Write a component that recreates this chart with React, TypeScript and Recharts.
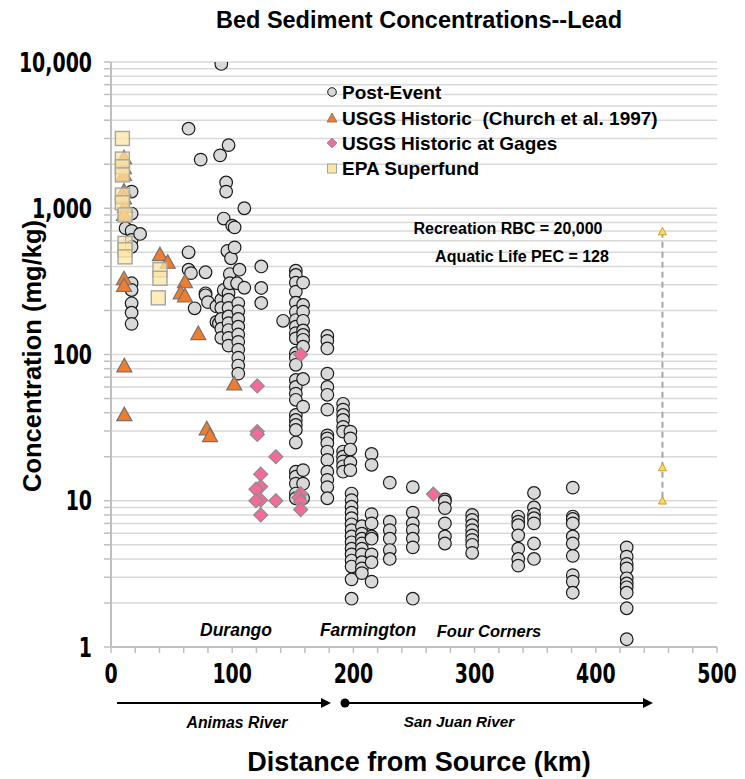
import React from "react";
import { ScatterChart, Scatter, XAxis, YAxis, CartesianGrid } from "recharts";

const W = 745;
const H = 779;

const xTicks = [0, 20, 40, 60, 80, 100, 120, 140, 160, 180, 200, 220, 240, 260, 280, 300, 320, 340, 360, 380, 400, 420, 440, 460, 480, 500];
const yTicks = [
  1, 2, 3, 4, 5, 6, 7, 8, 9,
  10, 20, 30, 40, 50, 60, 70, 80, 90,
  100, 200, 300, 400, 500, 600, 700, 800, 900,
  1000, 2000, 3000, 4000, 5000, 6000, 7000, 8000, 9000,
  10000,
];
const yMajor = [1, 10, 100, 1000, 10000];

// post-event samples, grouped by site (distance km -> concentrations mg/kg)
const postEventSites: { km: number; conc: number[] }[] = [
  { km: 12, conc: [730] },
  { km: 17, conc: [1300, 920, 700, 607, 545, 307, 276, 224, 193, 162] },
  { km: 24, conc: [667] },
  { km: 64, conc: [3500, 500, 380] },
  { km: 66, conc: [360] },
  { km: 69, conc: [207] },
  { km: 74, conc: [2150] },
  { km: 78, conc: [365, 262, 254] },
  { km: 80, conc: [228] },
  { km: 87, conc: [213, 167] },
  { km: 89, conc: [163] },
  { km: 90, conc: [2300] },
  { km: 91, conc: [9700, 237, 208, 175, 150, 130] },
  { km: 93, conc: [850, 276] },
  { km: 95, conc: [1500, 1300] },
  { km: 96, conc: [510] },
  { km: 97, conc: [2700, 262, 237, 208, 182, 164, 147, 130, 115] },
  { km: 98, conc: [355, 307] },
  { km: 99, conc: [455] },
  { km: 100, conc: [760] },
  { km: 102, conc: [740, 540] },
  { km: 104, conc: [307] },
  { km: 105, conc: [224, 198, 175, 155, 137, 122, 108, 95, 84, 74] },
  { km: 106, conc: [380] },
  { km: 110, conc: [1000, 286] },
  { km: 124, conc: [400, 285, 225] },
  { km: 142, conc: [170] },
  { km: 152.5, conc: [374, 350, 310, 269, 226, 196, 172, 155, 140, 129, 102, 95, 85, 67, 60, 54, 49, 38.6, 35.7, 33, 30.5, 25, 15.8, 14.6, 13.1, 11.2, 10.4] },
  { km: 158.5, conc: [310, 218, 196, 170, 146, 136, 126, 113, 68, 44, 16.2, 13.1, 10.4] },
  { km: 178.5, conc: [134, 124, 110, 74, 60, 53, 42, 28, 26.7, 24.7, 21.7, 19, 15.8, 13.9, 12.4, 10.4] },
  { km: 191.5, conc: [46, 42, 38.6, 35.7, 32, 29.7, 21.7, 20, 18.6, 17.2, 15.8] },
  { km: 197.5, conc: [29.7, 26.7, 22.4, 18.3, 16.2] },
  { km: 198.5, conc: [11.2, 10.1, 9.1, 8.3, 7.6, 6.9, 6.3, 5.7, 5.2, 4.7, 4.3, 3.9, 3.55, 2.9, 2.14] },
  { km: 207, conc: [6.7, 5.95, 5.5, 5.1, 4.7, 4.3, 3.8, 3.45, 3.2] },
  { km: 215, conc: [20.9, 17.6, 8.1, 7.0, 5.7, 5.5, 4.3, 3.8, 2.8] },
  { km: 230, conc: [13.3, 7.2, 6.3, 5.5, 4.6, 4.0] },
  { km: 249, conc: [12.4, 8.3, 7.0, 6.3, 5.5, 4.8, 2.14] },
  { km: 275.5, conc: [10.2, 9.9, 8.9, 7.0, 5.7, 5.1] },
  { km: 298, conc: [8.0, 7.4, 6.8, 6.3, 5.8, 5.4, 5.0, 4.4] },
  { km: 336, conc: [7.8, 7.2, 6.8, 5.8, 4.7, 4.0, 3.6] },
  { km: 349, conc: [11.3, 9.0, 8.1, 7.6, 7.0, 5.1, 4.0] },
  { km: 381, conc: [12.3, 7.8, 7.5, 7.0, 5.7, 5.1, 4.2, 3.1, 2.8, 2.35] },
  { km: 425.5, conc: [4.8, 4.15, 3.7, 3.45, 2.95, 2.72, 2.56, 2.35, 1.84, 1.13] },
];

// USGS historic (Church et al. 1997)
const usgsHistoric: [number, number][] = [
  [10.7, 2200], [10.7, 1880], [10.7, 1690], [10.7, 1300], [10.7, 1170], [11.5, 1020], [10.7, 900],
  [10.7, 327], [10.7, 294], [11, 83], [11, 38.5],
  [40.4, 478], [46.8, 424], [61, 312], [57.5, 262], [61, 250], [72, 138],
  [79, 30.8], [81.7, 27.7], [101.7, 62.5],
];

// USGS historic at gages
const usgsGages: [number, number][] = [
  [120.7, 61], [120.7, 29.7], [120.7, 28.4], [136, 20], [123.5, 15.2], [123.5, 12.5], [119.6, 12],
  [123.5, 10.1], [119.6, 10], [136, 10], [123.5, 8.0],
  [156.5, 100], [156.5, 11.2], [155, 10.5], [156.5, 9.9], [156.5, 8.7], [266, 11.1],
];

// EPA superfund
const epaSuperfund: [number, number][] = [
  [9.4, 3000], [9.4, 2170], [9.4, 1920], [9.4, 1690], [9.4, 1230], [9.4, 1090], [11.6, 900],
  [11.6, 575], [11.6, 520], [11.6, 465], [40.4, 380], [40.4, 332], [39, 244],
];

// range marker at the right edge
const rangeMarker: [number, number][] = [[455, 690], [455, 16.8], [455, 9.95]];

const toPts = (arr: [number, number][]) => arr.map(([x, y]) => ({ x, y }));
const postEventPts = postEventSites.flatMap((s) => s.conc.map((y) => ({ x: s.km, y })));

const labelFont = "'Liberation Sans', Arial, sans-serif";
const tickFont = "'DejaVu Sans Condensed', 'DejaVu Sans', sans-serif";

function CircleMark(props: any) {
  const { cx, cy } = props;
  return <circle cx={cx} cy={cy} r={6.3} fill="#d9d9d9" stroke="#1a1a1a" strokeWidth={1.2} />;
}

function TriMark(props: any) {
  const { cx, cy } = props;
  return (
    <polygon
      points={`${cx},${cy - 8} ${cx - 7.5},${cy + 5.5} ${cx + 7.5},${cy + 5.5}`}
      fill="#ed7d31"
      stroke="#7a7068"
      strokeWidth={1.2}
    />
  );
}

function DiamondMark(props: any) {
  const { cx, cy } = props;
  return (
    <polygon
      points={`${cx},${cy - 7} ${cx + 7},${cy} ${cx},${cy + 7} ${cx - 7},${cy}`}
      fill="#f46a9b"
      stroke="#8c8c8c"
      strokeWidth={1.2}
    />
  );
}

function SquareMark(props: any) {
  const { cx, cy } = props;
  return (
    <rect x={cx - 7} y={cy - 7} width={14} height={14} fill="#fde6a3" fillOpacity={0.75} stroke="#a5a5a5" strokeWidth={1.4} />
  );
}

function SmallTri(props: any) {
  const { cx, cy } = props;
  return (
    <polygon
      points={`${cx},${cy - 4.5} ${cx - 4},${cy + 3} ${cx + 4},${cy + 3}`}
      fill="#ffd966"
      stroke="#bf9000"
      strokeWidth={0.8}
    />
  );
}

const tickText = { fill: "#000", fontSize: 27, fontWeight: 700, fontFamily: tickFont } as const;

function YTick(props: any) {
  const { x, y, payload } = props;
  if (!yMajor.includes(payload.value)) return <g />;
  return (
    <g transform={`translate(${x},${y})`}>
      <text transform="scale(0.78,1)" textAnchor="end" dy="0.36em" {...tickText}>
        {payload.value.toLocaleString("en-US")}
      </text>
    </g>
  );
}

function XTick(props: any) {
  const { x, y, payload } = props;
  if (payload.value % 100 !== 0) return <g />;
  return (
    <g transform={`translate(${x},${y})`}>
      <text transform="scale(0.78,1)" textAnchor="middle" dy="0.74em" {...tickText}>
        {String(payload.value)}
      </text>
    </g>
  );
}

function Overlay() {
  const bold = { fontFamily: labelFont, fontWeight: 700, fill: "#000" } as const;
  const ital = { ...bold, fontStyle: "italic" } as const;
  return (
    <svg width={W} height={H} style={{ position: "absolute", left: 0, top: 0, pointerEvents: "none" }}>
      <text x={419} y={28} textAnchor="middle" fontSize={23.5} {...bold}>
        Bed Sediment Concentrations--Lead
      </text>
      <text transform="translate(41,356) rotate(-90)" textAnchor="middle" fontSize={25.5} {...bold}>
        Concentration (mg/kg)
      </text>
      <text x={419} y={771} textAnchor="middle" fontSize={27} {...bold}>
        Distance from Source (km)
      </text>

      {/* legend */}
      <circle cx={332} cy={92} r={4.3} fill="#d9d9d9" stroke="#1a1a1a" strokeWidth={1} />
      <text x={342} y={99} fontSize={19} {...bold}>Post-Event</text>
      <polygon points="332,113 327,122 337,122" fill="#ed7d31" stroke="#7a7068" strokeWidth={0.8} />
      <text x={342} y={125} fontSize={19} {...bold} style={{ whiteSpace: "pre" }}>
        USGS Historic  (Church et al. 1997)
      </text>
      <polygon points="332,138 337,143 332,148 327,143" fill="#f46a9b" stroke="#8c8c8c" strokeWidth={0.8} />
      <text x={342} y={150} fontSize={19} {...bold}>USGS Historic at Gages</text>
      <rect x={327.5} y={164} width={9} height={9} fill="#fde6a3" stroke="#a5a5a5" strokeWidth={1} />
      <text x={342} y={175} fontSize={19} {...bold}>EPA Superfund</text>

      <text x={508} y={234} textAnchor="middle" fontSize={16} {...bold}>Recreation RBC = 20,000</text>
      <text x={522} y={262} textAnchor="middle" fontSize={16} {...bold}>Aquatic Life PEC = 128</text>

      {/* place names */}
      <text x={236} y={636} textAnchor="middle" fontSize={17.5} {...ital}>Durango</text>
      <text x={368} y={636} textAnchor="middle" fontSize={17.5} {...ital}>Farmington</text>
      <text x={489} y={637} textAnchor="middle" fontSize={16.5} {...ital}>Four Corners</text>

      {/* river arrows */}
      <line x1={117} y1={703} x2={324} y2={703} stroke="#000" strokeWidth={2} />
      <polygon points="331,703 321,698 321,708" fill="#000" />
      <circle cx={345} cy={703} r={4.5} fill="#000" />
      <line x1={345} y1={703} x2={646} y2={703} stroke="#000" strokeWidth={2} />
      <polygon points="653,703 643,698 643,708" fill="#000" />
      <text x={237} y={728} textAnchor="middle" fontSize={15.8} {...ital}>Animas River</text>
      <text x={459} y={727} textAnchor="middle" fontSize={15.3} {...ital}>San Juan River</text>
    </svg>
  );
}

export default function App() {
  return (
    <div style={{ position: "absolute", left: 0, top: 0, width: W, height: H, background: "#fff" }}>
      <ScatterChart width={W} height={H} margin={{ top: 62, right: 28, bottom: 92, left: 11 }}>
        <CartesianGrid vertical={false} stroke="#d9d9d9" strokeWidth={1.5} />
        <XAxis
          type="number"
          dataKey="x"
          domain={[0, 500]}
          ticks={xTicks}
          interval={0}
          height={40}
          axisLine={{ stroke: "#bfbfbf", strokeWidth: 2 }}
          tickLine={{ stroke: "#bfbfbf", strokeWidth: 1.5 }}
          tickSize={6}
          tickMargin={10}
          tick={<XTick />}
        />
        <YAxis
          type="number"
          dataKey="y"
          scale="log"
          domain={[1, 10000]}
          allowDataOverflow
          ticks={yTicks}
          interval={0}
          width={100}
          axisLine={{ stroke: "#bfbfbf", strokeWidth: 2 }}
          tickLine={{ stroke: "#bfbfbf", strokeWidth: 1.5 }}
          tickSize={7}
          tickMargin={12}
          tick={<YTick />}
        />
        <Scatter data={postEventPts} shape={CircleMark} isAnimationActive={false} />
        <Scatter data={toPts(usgsHistoric)} shape={TriMark} isAnimationActive={false} />
        <Scatter data={toPts(epaSuperfund)} shape={SquareMark} isAnimationActive={false} />
        <Scatter data={toPts(usgsGages)} shape={DiamondMark} isAnimationActive={false} />
        <Scatter
          data={toPts(rangeMarker)}
          shape={SmallTri}
          line={{ stroke: "#a6a6a6", strokeWidth: 2, strokeDasharray: "6 4" }}
          lineType="joint"
          isAnimationActive={false}
        />
      </ScatterChart>
      <Overlay />
    </div>
  );
}
